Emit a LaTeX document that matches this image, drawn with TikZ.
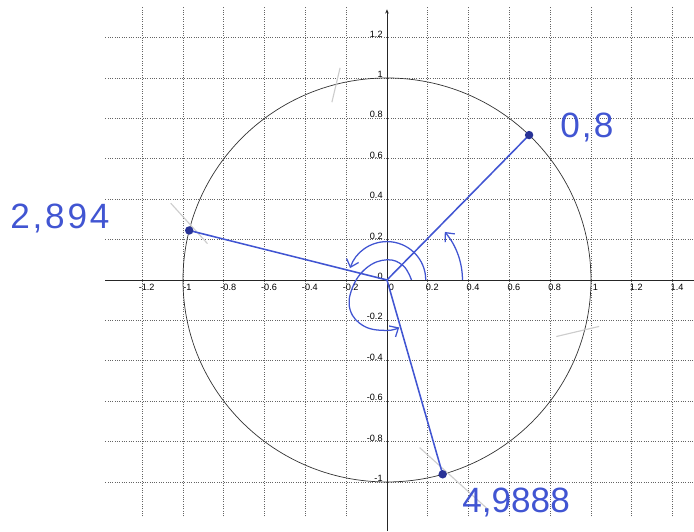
\documentclass[tikz,border=0pt]{standalone}
\usepackage{fontspec}
\setmainfont{Liberation Sans}
\usetikzlibrary{arrows.meta, calc, positioning}
\definecolor{handblue}{RGB}{65, 85, 210}
\definecolor{dotblue}{RGB}{40, 50, 150}
\definecolor{gridgray}{RGB}{100, 100, 100}
\definecolor{pencilgray}{RGB}{205, 205, 205}
\newcommand{\handsize}{\fontsize{25}{25}\selectfont}

\begin{document}
\begin{tikzpicture}[
		x=5.1cm, y=5.05cm,
		gridline/.style={gridgray, densely dotted, line width=0.65pt},
		axisline/.style={black!85, line width=0.6pt},
		ticklabel/.style={font=\fontsize{6.5}{7}\selectfont, inner sep=0pt, text=black},
		ray/.style={handblue, line width=1.1pt},
		turn/.style={handblue, line width=0.9pt, -{Straight Barb[length=5pt, width=9pt]}},
		handlabel/.style={handblue, font=\handsize, inner sep=0pt, anchor=base west},
		pencilmark/.style={pencilgray, line width=0.8pt}
		]
		\useasboundingbox (-1.897,-1.243) rectangle (1.505,1.386);
		% dotted grid
		\foreach \t in {-1.2,-1,-0.8,-0.6,-0.4,-0.2,0.2,0.4,0.6,0.8,1,1.2,1.4}
		\draw[gridline] (\t,-1.17) -- (\t,1.35);
		\foreach \t in {-1,-0.8,-0.6,-0.4,-0.2,0.2,0.4,0.6,0.8,1,1.2}
		\draw[gridline] (-1.38,\t) -- (1.505,\t);
		% axes and unit circle
		\draw[axisline] (-1.38,0) -- (1.505,0);
		\draw[axisline, -{Stealth[length=3pt, width=2.5pt]}] (0,-1.243) -- (0,1.34);
		\draw[black!80, line width=0.5pt] (0,0) circle [radius=1];
		% tick labels
		\foreach \t [count=\i] in {-1.2,-1,-0.8,-0.6,-0.4,-0.2,0,0.2,0.4,0.6,0.8,1,1.2,1.4}
		\node[ticklabel, anchor=north] (xl\i) at ($(\t,0)+(0.022,-0.02)$) {\t};
		\foreach \t [count=\i] in {-1,-0.8,-0.6,-0.4,-0.2,0,0.2,0.4,0.6,0.8,1,1.2}
		\node[ticklabel, anchor=south east] (yl\i) at ($(0,\t)+(-0.02,0)$) {\t};
		% pencil strokes
		\draw[pencilmark] (-0.27,0.88) -- (-0.23,1.05);
		\draw[pencilmark] (0.83,-0.28) -- (1.04,-0.23);
		\draw[pencilmark] (-1.06,0.38) -- (-0.88,0.18);
		\draw[pencilmark] (0.16,-0.83) -- (0.5,-1.14);
		% the three angles
		\coordinate (O) at (0,0);
		\coordinate (p08) at ({deg(0.8)}:1);
		\coordinate (p2894) at ({deg(2.894)}:1);
		\coordinate (p49888) at ({deg(4.9888)}:1);
		\foreach \p in {p08, p2894, p49888}{
			\draw[ray] (O) -- (\p);
			\fill[dotblue] (\p) circle [radius=3pt];
		}
		\draw[turn] (0.37,0) arc [start angle=0, end angle=40, radius=0.37];
		\draw[turn] (0.19,0) arc [start angle=0, end angle=162, radius=0.19];
		\draw[turn] plot[smooth, tension=0.7] coordinates {(0.12,0) (0.08,0.07) (0,0.1)
			(-0.1,0.06) (-0.17,-0.04) (-0.18,-0.15) (-0.11,-0.23) (0,-0.25) (0.06,-0.235)};
		% handwritten values
		\node[handlabel, font={\handsize\addfontfeature{LetterSpace=6}}] (lab08) at (0.848,0.703) {0,8};
		\node[handlabel, font={\handsize\addfontfeature{LetterSpace=8}}] (lab2894) at (-1.848,0.257) {2,894};
		\node[handlabel] (lab49888) at (0.368,-1.149) {4,9888};
	\end{tikzpicture}
\end{document}
